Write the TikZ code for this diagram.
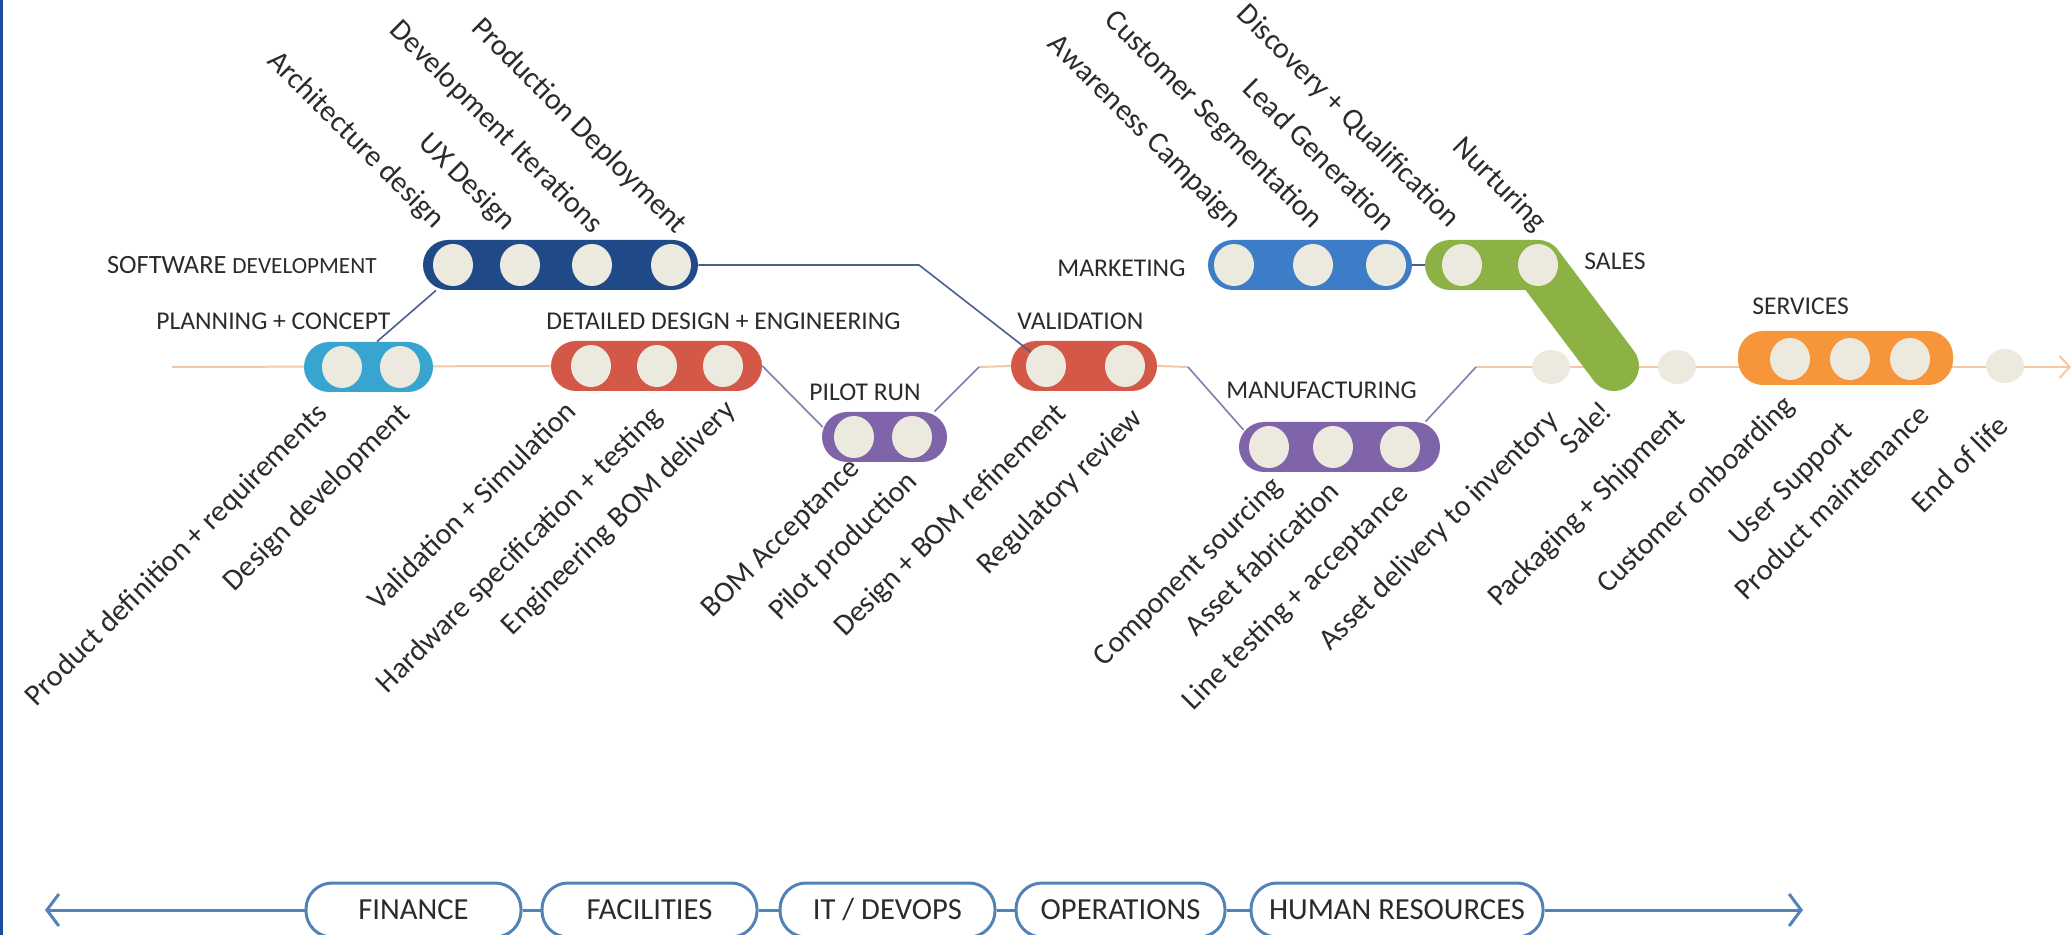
\documentclass[tikz,border=0pt]{standalone}
\usepackage{fontspec}
\setmainfont{Carlito}
\usetikzlibrary{shapes.misc,shapes.geometric,arrows.meta,calc,backgrounds}
\definecolor{cPC}{HTML}{38A5D0}
\definecolor{cSW}{HTML}{1F4A87}
\definecolor{cRed}{HTML}{D35847}
\definecolor{cPur}{HTML}{7F64A9}
\definecolor{cMk}{HTML}{3D7CC7}
\definecolor{cSa}{HTML}{8CB145}
\definecolor{cSv}{HTML}{F7953B}
\definecolor{cStn}{HTML}{ECEADF}
\definecolor{cMain}{HTML}{F2C8A6}
\definecolor{cConn}{HTML}{7D7FAE}
\definecolor{cSWc}{HTML}{4A5F8E}
\definecolor{cBar}{HTML}{5283B8}
\definecolor{cTxt}{HTML}{2B2B2B}
\definecolor{cStripe}{HTML}{1C4C9E}
\begin{document}
\begin{tikzpicture}[x=0.5pt,y=-0.5pt,
 pill/.style={rectangle, rounded corners=12.5pt, minimum height=25pt, inner sep=0pt, fill=#1},
 stn/.style={ellipse, minimum width=20pt, minimum height=21pt, inner sep=0pt, fill=cStn},
 freestn/.style={ellipse, minimum width=19pt, minimum height=17pt, inner sep=0pt, fill=cStn},
 mainline/.style={draw=cMain, line width=1pt},
 conn/.style={draw=cConn, line width=0.8pt},
 swconn/.style={draw=cSWc, line width=0.8pt},
 head/.style={font=\fontsize{12.8}{15}\selectfont, text=cTxt, inner sep=0pt, anchor=west},
 blab/.style={font=\fontsize{15}{18}\selectfont, text=cTxt, inner sep=0pt, rotate=45, anchor=base east},
 tlab/.style={font=\fontsize{15}{18}\selectfont, text=cTxt, inner sep=0pt, rotate=-45, anchor=base east},
 dept/.style={rectangle, rounded corners=13pt, draw=cBar, line width=1.5pt, fill=white, minimum height=27pt, inner sep=0pt, font=\fontsize{15.3}{18}\selectfont, text=cTxt},
 bar/.style={draw=cBar, line width=1.5pt},
 barbtip/.tip={Straight Barb[length=6pt,width=16pt]},
 mainbarb/.tip={Straight Barb[length=5pt,width=11pt]}
]
\useasboundingbox (0,0) rectangle (2072,935);
\fill[cStripe] (0,0) rectangle (3,935);

% ---- line pills
\node[pill=cPC, minimum width=64.5pt] (pc) at (368.5,367) {};
\node[pill=cSW, minimum width=137.5pt] (sw) at (560.5,265) {};
\node[pill=cRed, minimum width=105.5pt] (dd) at (656.5,366) {};
\node[pill=cPur, minimum width=62.5pt] (pr) at (884.5,437) {};
\node[pill=cRed, minimum width=73pt] (val) at (1084,366) {};
\node[pill=cPur, minimum width=100.5pt] (mf) at (1339.5,447) {};
\node[pill=cMk, minimum width=102pt] (mk) at (1310,265) {};
\node[pill=cSv, minimum width=107.5pt, minimum height=27pt] (sv) at (1845.5,358) {};

% ---- coordinates
\coordinate (start) at (172,367);
\coordinate (pv) at (979,367);
\coordinate (vm) at (1188,367);
\coordinate (mo) at (1476,367);
\coordinate (lineend) at (2071,367);
\coordinate (swbend) at (919,265);
\coordinate (salesL) at (1425,265);
\coordinate (sa1c) at (1462,265);
\coordinate (sa2c) at (1538,265);
\coordinate (sale) at (1614,366);

\begin{pgfonlayer}{background}
\draw[mainline] (start) -- (dd.west);
\draw[mainline] (pv) -- (val.west);
\draw[mainline] (val.east) -- (vm);
\draw[mainline, -{mainbarb}] (mo) -- (lineend);
\draw[swconn] ($(pc.north)+(8.5,0)$) -- ($(sw.south)+(-124.5,0)$);
\draw[conn] (dd.east) -- ($(pr.west)+(1,-10)$);
\draw[conn] ($(pr.north)+(50,0)$) -- (pv);
\draw[conn] (vm) -- ($(mf.west)+(5,-17)$);
\draw[conn] ($(mf.north)+(86,0)$) -- (mo);
\draw[swconn] (mk.east) -- (salesL);
\end{pgfonlayer}

\draw[swconn] (sw.east) -- (swbend) -- ($(val.west)+(33,-4)$);
\draw[cSa, line width=25pt, line cap=round, line join=round] ($(sa1c)+(-12,0)$) -- (sa2c) -- (sale);

% ---- stations
\node[stn] (pc1) at (342,367) {};
\node[stn] (pc2) at (400,367) {};
\node[stn] (sw1) at (453,265) {};
\node[stn] (sw2) at (520,265) {};
\node[stn] (sw3) at (592,265) {};
\node[stn] (sw4) at (671,265) {};
\node[stn] (dd1) at (591,366) {};
\node[stn] (dd2) at (657,366) {};
\node[stn] (dd3) at (723,366) {};
\node[stn] (pr1) at (854,437) {};
\node[stn] (pr2) at (912,437) {};
\node[stn] (va1) at (1046,366) {};
\node[stn] (va2) at (1125,366) {};
\node[stn] (mf1) at (1269,447) {};
\node[stn] (mf2) at (1333,447) {};
\node[stn] (mf3) at (1400,447) {};
\node[stn] (mk1) at (1234,265) {};
\node[stn] (mk2) at (1313,265) {};
\node[stn] (mk3) at (1386,265) {};
\node[stn] (sa1) at (sa1c) {};
\node[stn] (sa2) at (sa2c) {};
\node[stn] (sv1) at (1790,359) {};
\node[stn] (sv2) at (1850,359) {};
\node[stn] (sv3) at (1910,359) {};
\node[freestn] (fs1) at (1551,367) {};
\node[freestn] (fs2) at (1677,367) {};
\node[freestn] (fs3) at (2005,366) {};

% ---- line headings
\node[head, anchor=east] (hsw) at (377,265) {\fontsize{13.2}{15}\selectfont SOFTWARE \fontsize{11.6}{14}\selectfont DEVELOPMENT};
\node[head] (hpc) at (156,321) {PLANNING + CONCEPT};
\node[head] (hdd) at (546,321) {DETAILED DESIGN + ENGINEERING};
\node[head] (hpr) at (809,392) {PILOT RUN};
\node[head] (hval) at (1017,321) {VALIDATION};
\node[head] (hmf) at (1226,390) {MANUFACTURING};
\node[head] (hmk) at (1057,268) {MARKETING};
\node[head] (hsa) at (1584,261) {SALES};
\node[head] (hsv) at (1752,306) {SERVICES};

% ---- top labels
\node[tlab] (l1) at (434,230) {Architecture design};
\node[tlab] (l2) at (505,232) {UX Design};
\node[tlab] (l3) at (592,235) {Development Iterations};
\node[tlab] (l4) at (676,235) {Production Deployment};
\node[tlab] (l5) at (1231,230) {Awareness Campaign};
\node[tlab] (l6) at (1312,230) {Customer Segmentation};
\node[tlab] (l7) at (1384,233) {Lead Generation};
\node[tlab] (l8) at (1449,229) {Discovery + Qualification};
\node[tlab] (l9) at (1536,233) {Nurturing};

% ---- bottom labels
\node[blab] (b1) at (329,415) {Product definition + requirements};
\node[blab] (b2) at (412,415) {Design development};
\node[blab] (b3) at (578,413) {Validation + Simulation};
\node[blab] (b4) at (664,418) {Hardware specification + testing};
\node[blab] (b5) at (737,412) {Engineering BOM delivery};
\node[blab] (b6) at (861,470) {BOM Acceptance};
\node[blab] (b7) at (919,483) {Pilot production};
\node[blab] (b8) at (1068,415) {Design + BOM refinement};
\node[blab] (b9) at (1144,420) {Regulatory review};
\node[blab] (b10) at (1284,488) {Component sourcing};
\node[blab] (b11) at (1341,493) {Asset fabrication};
\node[blab] (b12) at (1410,495) {Line testing + acceptance};
\node[blab] (b13) at (1560,422) {Asset delivery to inventory};
\node[blab] (b14) at (1614,413) {Sale!};
\node[blab] (b15) at (1687,420) {Packaging + Shipment};
\node[blab] (b16) at (1796,407) {Customer onboarding};
\node[blab] (b17) at (1854,433) {User Support};
\node[blab] (b18) at (1931,417) {Product maintenance};
\node[blab] (b19) at (2010,428) {End of life};

% ---- support functions bar
\coordinate (bl) at (45,910);
\coordinate (br) at (1803,910);
\node[dept, minimum width=107.5pt] (fin) at (413.5,910) {FINANCE};
\node[dept, minimum width=107.5pt] (fac) at (649.5,910) {FACILITIES};
\node[dept, minimum width=107.5pt] (it) at (887.5,910) {IT / DEVOPS};
\node[dept, minimum width=104.5pt] (ops) at (1120.5,910) {OPERATIONS};
\node[dept, minimum width=146pt] (hr) at (1397,910) {HUMAN RESOURCES};
\draw[bar, {barbtip}-] (bl) -- (fin.west);
\draw[bar] (fin.east) -- (fac.west);
\draw[bar] (fac.east) -- (it.west);
\draw[bar] (it.east) -- (ops.west);
\draw[bar] (ops.east) -- (hr.west);
\draw[bar, -{barbtip}] (hr.east) -- (br);
\end{tikzpicture}
\end{document}
